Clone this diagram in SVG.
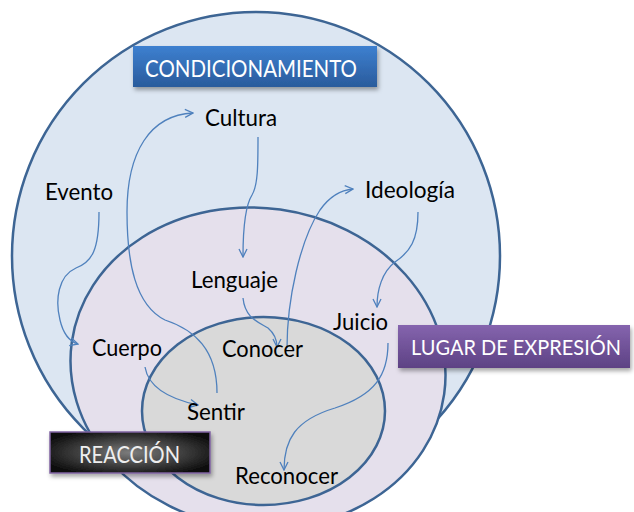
<svg xmlns="http://www.w3.org/2000/svg" width="634" height="512" viewBox="0 0 634 512">
<defs>
<style>
.ring{stroke:#3d6594;stroke-width:2.5}
.lbl{font-family:Lato,"Open Sans","Liberation Sans",sans-serif;font-size:24px;fill:#000}
.box{font-family:Lato,"Open Sans","Liberation Sans",sans-serif;font-size:24px;fill:#fff}
.box2{font-family:Lato,"Open Sans","Liberation Sans",sans-serif;font-size:20.5px;fill:#fff}
.con{fill:none;stroke:#4f81bd;stroke-width:1.3;marker-end:url(#arr)}
</style>
<marker id="arr" viewBox="0 0 10 10" refX="9" refY="5" markerWidth="10" markerHeight="10" markerUnits="userSpaceOnUse" orient="auto">
<path d="M1,1 L9,5 L1,9" fill="none" stroke="#4f81bd" stroke-width="1.3"/>
</marker>
<linearGradient id="gBlue" x1="0" y1="0" x2="0" y2="1">
<stop offset="0" stop-color="#3d80d0"/>
<stop offset="1" stop-color="#2a5b9c"/>
</linearGradient>
<linearGradient id="gPurp" x1="0" y1="0" x2="0" y2="1">
<stop offset="0" stop-color="#8564ae"/>
<stop offset="1" stop-color="#5d4284"/>
</linearGradient>
<radialGradient id="gBlack" cx="0.5" cy="0.5" r="0.6">
<stop offset="0" stop-color="#7c7c7c"/>
<stop offset="1" stop-color="#0c0c0c"/>
</radialGradient>
<filter id="sh" x="-10%" y="-20%" width="125%" height="160%">
<feDropShadow dx="1.5" dy="3" stdDeviation="2" flood-color="#000" flood-opacity="0.35"/>
</filter>
</defs>

<g id="zones">
<circle id="condicionamiento-zone" class="ring" cx="256" cy="256" r="244" fill="#dce6f2"/>
<ellipse id="expresion-zone" class="ring" cx="258" cy="368" rx="188" ry="160" transform="rotate(8 258 368)" fill="#e5e0ec"/>
<ellipse id="reaccion-zone" class="ring" cx="263.5" cy="411" rx="121.5" ry="94" fill="#d9d9d9"/>
</g>

<g id="connectors">
<path class="con" d="M99,212 C99,250 92,262 76,268 C58,276 55,300 60,320 C63,333 68,341 78,344"/>
<path class="con" d="M217,393 C217,350 195,330 165,320 C135,305 127,262 127,212 C127,152 150,115 193,113"/>
<path class="con" d="M258,137 C258,165 258,185 252,195 C245,206 243,230 243,257"/>
<path class="con" d="M243,298 C245,318 258,322 268,328 C275,334 277,340 277,347"/>
<path class="con" d="M287,348 C287,300 300,240 320,210 C330,196 340,190 353,189"/>
<path class="con" d="M418,212 C418,240 410,252 395,262 C382,272 377,290 377,307"/>
<path class="con" d="M388,343 C388,375 375,395 335,408 C295,420 284,440 284,470"/>
<path class="con" d="M145,367 C148,385 165,398 198,405"/>
</g>

<g id="node-cultura"><text class="lbl" x="205" y="126" textLength="72" lengthAdjust="spacingAndGlyphs">Cultura</text></g>
<g id="node-evento"><text class="lbl" x="45" y="200" textLength="68" lengthAdjust="spacingAndGlyphs">Evento</text></g>
<g id="node-ideologia"><text class="lbl" x="365" y="198" textLength="90" lengthAdjust="spacingAndGlyphs">Ideología</text></g>
<g id="node-lenguaje"><text class="lbl" x="191" y="288" textLength="87" lengthAdjust="spacingAndGlyphs">Lenguaje</text></g>
<g id="node-juicio"><text class="lbl" x="333" y="330" textLength="55" lengthAdjust="spacingAndGlyphs">Juicio</text></g>
<g id="node-cuerpo"><text class="lbl" x="92" y="356" textLength="70" lengthAdjust="spacingAndGlyphs">Cuerpo</text></g>
<g id="node-conocer"><text class="lbl" x="222" y="357" textLength="81" lengthAdjust="spacingAndGlyphs">Conocer</text></g>
<g id="node-sentir"><text class="lbl" x="187" y="420" textLength="58" lengthAdjust="spacingAndGlyphs">Sentir</text></g>
<g id="node-reconocer"><text class="lbl" x="235" y="484" textLength="103" lengthAdjust="spacingAndGlyphs">Reconocer</text></g>

<g id="label-condicionamiento">
<rect x="133" y="46" width="244" height="41" fill="url(#gBlue)" filter="url(#sh)"/>
<text class="box" x="145" y="77" textLength="212" lengthAdjust="spacingAndGlyphs">CONDICIONAMIENTO</text>
</g>
<g id="label-lugar">
<rect x="398" y="325" width="232" height="43" fill="url(#gPurp)" filter="url(#sh)"/>
<text class="box2" x="411" y="355" textLength="210" lengthAdjust="spacingAndGlyphs">LUGAR DE EXPRESIÓN</text>
</g>
<g id="label-reaccion">
<rect x="50" y="432" width="160" height="41" fill="url(#gBlack)" stroke="#8064a2" stroke-width="1.5" filter="url(#sh)"/>
<text class="box" x="79" y="463" textLength="101" lengthAdjust="spacingAndGlyphs" style="fill:#eee">REACCIÓN</text>
</g>
</svg>
